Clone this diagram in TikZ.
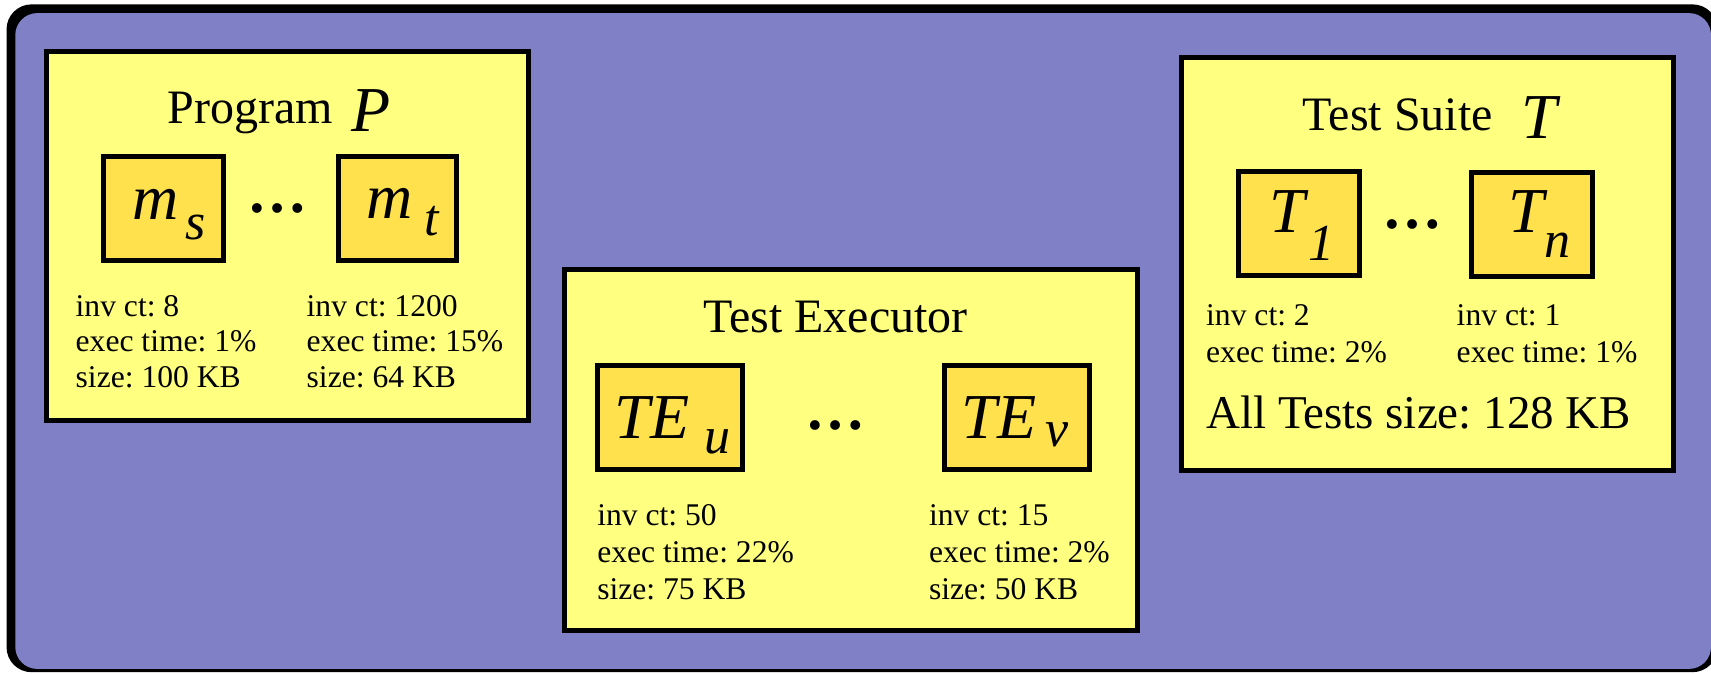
\documentclass[tikz,border=0pt]{standalone}
\usepackage{fontspec}
\setmainfont{Liberation Serif}
\frenchspacing
\definecolor{bgblue}{RGB}{128,128,198}
\definecolor{paneyellow}{RGB}{255,255,128}
\definecolor{boxgold}{RGB}{255,225,77}
\begin{document}
\begin{tikzpicture}[x=0.5456pt,y=-0.5456pt,
  panel/.style={draw=black,line width=2.5pt,fill=paneyellow,rectangle,inner sep=0pt},
  modbox/.style={draw=black,line width=2.5pt,fill=boxgold,rectangle,inner sep=0pt,minimum height=52pt},
  txt/.style={inner sep=0pt,anchor=base west},
  titletxt/.style={txt,font=\fontsize{24}{28}\selectfont},
  stat/.style={txt,font=\fontsize{15.8}{18}\selectfont},
  biglab/.style={txt,font=\fontsize{32}{36}\selectfont\itshape},
  sublab/.style={txt,font=\fontsize{26}{30}\selectfont\itshape},
  dotstxt/.style={inner sep=0pt,anchor=base,font=\fontsize{30}{32}\selectfont\bfseries}]
\useasboundingbox (0,0) rectangle (1568,617);
% outer frame
\fill[black,rounded corners=12.5pt] (6,4) rectangle (1574,616);
\fill[bgblue,rounded corners=11pt] (14,12) rectangle (1568,613);

% ---------- Program P ----------
\node[panel,minimum width=241.4pt,minimum height=184.6pt] (prog) at (263.5,216.5) {};
\node[titletxt] (progtitle) at (153,113) {Program};
\node[biglab] (progP) at (322,120.5) {P};
\node[modbox,minimum width=59.7pt] (ms) at (150,191) {};
\node[modbox,minimum width=59.1pt] (mt) at (364.5,191) {};
\node[biglab] (msm) at (121,201.4) {m};
\node[sublab] (mss) at (170,219.2) {s};
\node[biglab] (mtm) at (335.5,200.6) {m};
\node[sublab] (mtt) at (389,215.4) {t};
\node[dotstxt] (progdots) at (254,195) {…};
\node[stat] (msa) at (69,290.5) {inv ct: 8};
\node[stat] (msb) at (69,322.2) {exec time: 1\%};
\node[stat] (msc) at (69,355.4) {size: 100 KB};
\node[stat] (mta) at (280.7,290.5) {inv ct: 1200};
\node[stat] (mtb) at (280.7,322.2) {exec time: 15\%};
\node[stat] (mtc) at (280.7,355.4) {size: 64 KB};

% ---------- Test Executor ----------
\node[panel,minimum width=286.7pt,minimum height=180.3pt] (exec) at (780,412.5) {};
\node[titletxt] (exectitle) at (644,305) {Test Executor};
\node[modbox,minimum width=72.6pt] (teu) at (613.75,382.75) {};
\node[modbox,minimum width=72.6pt] (tev) at (932,382.75) {};
\node[biglab] (teuTE) at (563,401.6) {TE};
\node[sublab] (teuu) at (645,415.2) {u};
\node[biglab] (tevTE) at (881,401.6) {TE};
\node[sublab] (tevv) at (958,409) {v};
\node[dotstxt] (execdots) at (766,393.5) {…};
\node[stat] (teua) at (547,481.7) {inv ct: 50};
\node[stat] (teub) at (547,515.9) {exec time: 22\%};
\node[stat] (teuc) at (547,549.8) {size: 75 KB};
\node[stat] (teva) at (851,481.7) {inv ct: 15};
\node[stat] (tevb) at (851,515.9) {exec time: 2\%};
\node[stat] (tevc) at (851,549.8) {size: 50 KB};

% ---------- Test Suite T ----------
\node[panel,minimum width=246.3pt,minimum height=206.5pt] (suite) at (1308,241.5) {};
\node[titletxt] (suitetitle) at (1193.5,120) {Test Suite};
\node[biglab] (suiteT) at (1393.5,127) {T};
\node[modbox,minimum width=60.7pt] (tone) at (1190.2,204.5) {};
\node[modbox,minimum width=60.6pt] (tn) at (1404.2,205.5) {};
\node[biglab] (toneT) at (1163,213.5) {T};
\node[sublab] (tone1) at (1199,238.5) {1};
\node[biglab] (tnT) at (1382,213.5) {T};
\node[sublab] (tnn) at (1415,236.3) {n};
\node[dotstxt] (suitedots) at (1294,209.3) {…};
\node[stat] (tonea) at (1105,298) {inv ct: 2};
\node[stat] (toneb) at (1105,332) {exec time: 2\%};
\node[stat] (tna) at (1334.6,298) {inv ct: 1};
\node[stat] (tnb) at (1334.6,332) {exec time: 1\%};
\node[txt,font=\fontsize{23.5}{28}\selectfont] (alltests) at (1105,393) {All Tests size: 128 KB};
\end{tikzpicture}
\end{document}
